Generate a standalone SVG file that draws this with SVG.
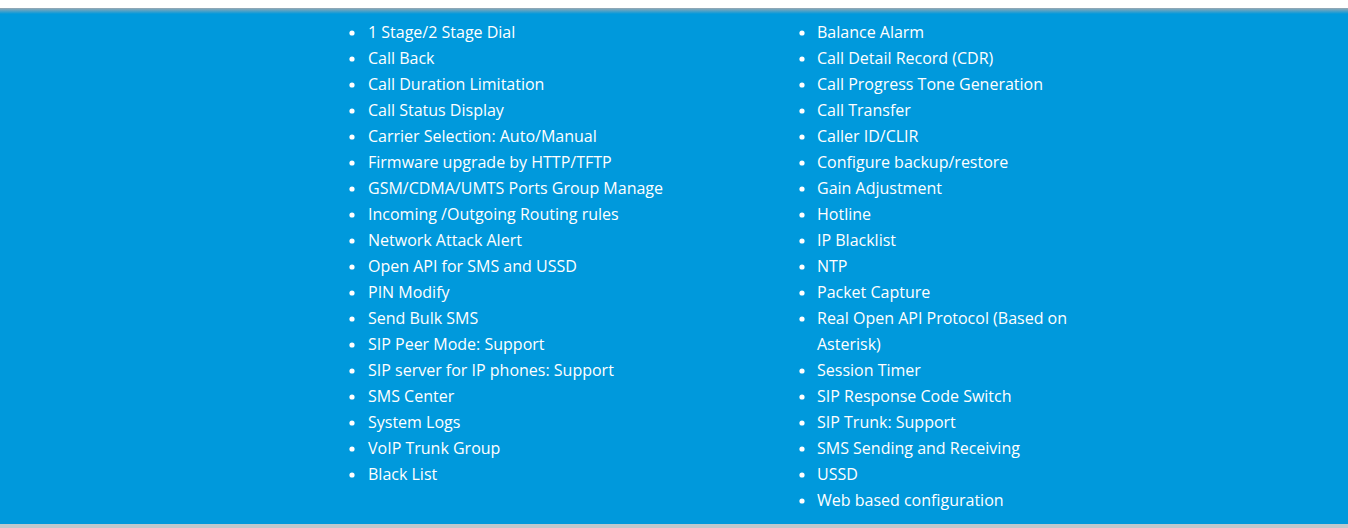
<svg xmlns="http://www.w3.org/2000/svg" width="1348" height="528" viewBox="0 0 1348 528">
<defs><linearGradient id="sh" x1="0" y1="0" x2="0" y2="1"><stop offset="0" stop-color="#9aa9b3"/><stop offset="1" stop-color="#0099dc"/></linearGradient></defs>
<style>text{font-family:"Open Sans","Noto Sans",sans-serif;font-size:16px;fill:#fff}circle{fill:#fff}</style>
<rect width="1348" height="528" fill="#fff"/>
<rect y="8" width="1348" height="517" fill="#0099dc"/>
<rect y="8" width="1348" height="6" fill="url(#sh)"/>
<rect y="524" width="1348" height="4" fill="#c0c8cc"/>
<g id="left">
<circle cx="352" cy="33" r="2.6"/><text x="368" y="38">1 Stage/2 Stage Dial</text>
<circle cx="352" cy="59" r="2.6"/><text x="368" y="64">Call Back</text>
<circle cx="352" cy="85" r="2.6"/><text x="368" y="90">Call Duration Limitation</text>
<circle cx="352" cy="111" r="2.6"/><text x="368" y="116">Call Status Display</text>
<circle cx="352" cy="137" r="2.6"/><text x="368" y="142">Carrier Selection: Auto/Manual</text>
<circle cx="352" cy="163" r="2.6"/><text x="368" y="168">Firmware upgrade by HTTP/TFTP</text>
<circle cx="352" cy="189" r="2.6"/><text x="368" y="194">GSM/CDMA/UMTS Ports Group Manage</text>
<circle cx="352" cy="215" r="2.6"/><text x="368" y="220">Incoming /Outgoing Routing rules</text>
<circle cx="352" cy="241" r="2.6"/><text x="368" y="246">Network Attack Alert</text>
<circle cx="352" cy="267" r="2.6"/><text x="368" y="272">Open API for SMS and USSD</text>
<circle cx="352" cy="293" r="2.6"/><text x="368" y="298">PIN Modify</text>
<circle cx="352" cy="319" r="2.6"/><text x="368" y="324">Send Bulk SMS</text>
<circle cx="352" cy="345" r="2.6"/><text x="368" y="350">SIP Peer Mode: Support</text>
<circle cx="352" cy="371" r="2.6"/><text x="368" y="376">SIP server for IP phones: Support</text>
<circle cx="352" cy="397" r="2.6"/><text x="368" y="402">SMS Center</text>
<circle cx="352" cy="423" r="2.6"/><text x="368" y="428">System Logs</text>
<circle cx="352" cy="449" r="2.6"/><text x="368" y="454">VoIP Trunk Group</text>
<circle cx="352" cy="475" r="2.6"/><text x="368" y="480">Black List</text>
</g>
<g id="right">
<circle cx="802" cy="33" r="2.6"/><text x="817" y="38">Balance Alarm</text>
<circle cx="802" cy="59" r="2.6"/><text x="817" y="64">Call Detail Record (CDR)</text>
<circle cx="802" cy="85" r="2.6"/><text x="817" y="90">Call Progress Tone Generation</text>
<circle cx="802" cy="111" r="2.6"/><text x="817" y="116">Call Transfer</text>
<circle cx="802" cy="137" r="2.6"/><text x="817" y="142">Caller ID/CLIR</text>
<circle cx="802" cy="163" r="2.6"/><text x="817" y="168">Configure backup/restore</text>
<circle cx="802" cy="189" r="2.6"/><text x="817" y="194">Gain Adjustment</text>
<circle cx="802" cy="215" r="2.6"/><text x="817" y="220">Hotline</text>
<circle cx="802" cy="241" r="2.6"/><text x="817" y="246">IP Blacklist</text>
<circle cx="802" cy="267" r="2.6"/><text x="817" y="272">NTP</text>
<circle cx="802" cy="293" r="2.6"/><text x="817" y="298">Packet Capture</text>
<circle cx="802" cy="319" r="2.6"/><text x="817" y="324">Real Open API Protocol (Based on</text>
<text x="817" y="350">Asterisk)</text>
<circle cx="802" cy="371" r="2.6"/><text x="817" y="376">Session Timer</text>
<circle cx="802" cy="397" r="2.6"/><text x="817" y="402">SIP Response Code Switch</text>
<circle cx="802" cy="423" r="2.6"/><text x="817" y="428">SIP Trunk: Support</text>
<circle cx="802" cy="449" r="2.6"/><text x="817" y="454">SMS Sending and Receiving</text>
<circle cx="802" cy="475" r="2.6"/><text x="817" y="480">USSD</text>
<circle cx="802" cy="501" r="2.6"/><text x="817" y="506">Web based configuration</text>
</g>
</svg>
